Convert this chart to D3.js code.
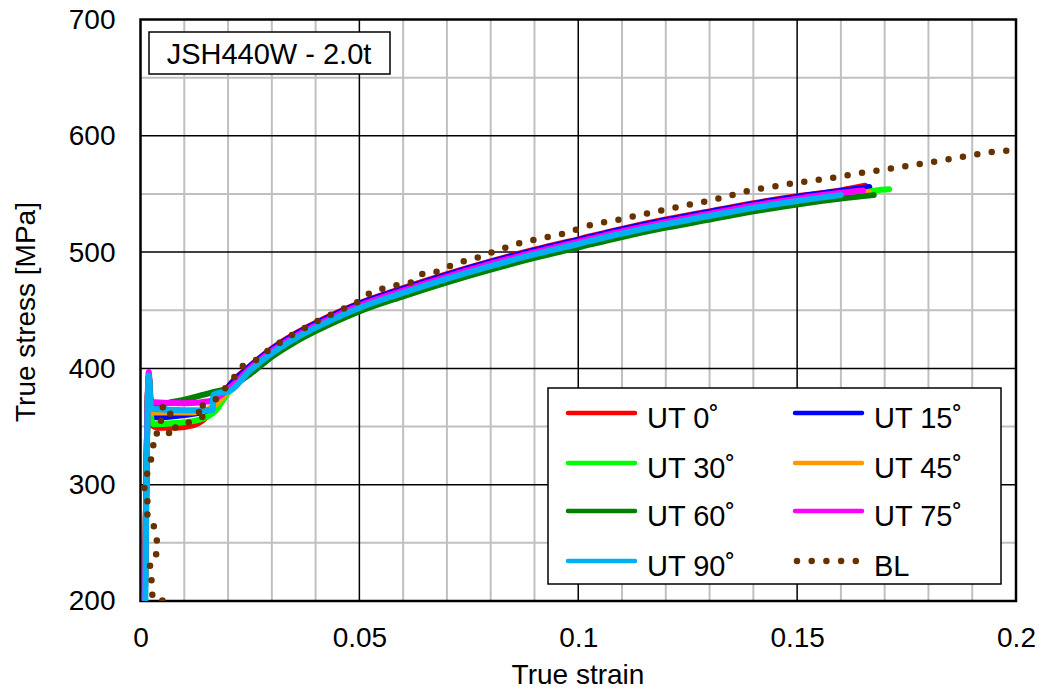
<!DOCTYPE html>
<html>
<head>
<meta charset="utf-8">
<script src="https://cdn.jsdelivr.net/npm/d3@7"></script>
<style>
  body { margin: 0; background: #fff; }
  svg { display: block; }
  text { font-family: "Liberation Sans", Arial, sans-serif; fill: #000; }
</style>
</head>
<body>
<svg id="chart" width="1041" height="693"></svg>
<script>
// ---- axis ticks ----
const xTicks = [0, 0.05, 0.1, 0.15, 0.2];
const xTickLabels = ["0", "0.05", "0.1", "0.15", "0.2"];
const yTicks = [200, 300, 400, 500, 600, 700];
const yTickLabels = ["200", "300", "400", "500", "600", "700"];

// ---- shared strain grid for the work-hardening part ----
const gridStrain = [0.02, 0.025, 0.03, 0.035, 0.04, 0.045, 0.05, 0.06, 0.07, 0.08, 0.09, 0.10, 0.11, 0.12, 0.13, 0.14, 0.15, 0.16];

// ---- UT 0° ----
const ut0Strain = [0.0010, 0.0019, 0.0024, 0.0040, 0.0080, 0.0120, 0.0150, 0.0180].concat(gridStrain, [0.1655]);
const ut0Stress = [200, 392, 352, 349, 349, 351, 358, 372,
  384, 402, 417, 429, 439, 448, 456, 469, 481, 492, 502, 511, 520, 528, 535, 542, 548, 553, 557];

// ---- UT 15° ----
const ut15Strain = [0.0010, 0.0019, 0.0024, 0.0040, 0.0100, 0.0160, 0.0180].concat(gridStrain, [0.1665]);
const ut15Stress = [200, 393, 358, 358, 360, 364, 372,
  383.5, 401.5, 416.5, 428.5, 438.5, 447.5, 455.5, 468.5, 480.5, 491.5, 501.5, 510.5, 519.5, 527.5, 534.5, 541.5, 547.5, 552.5, 556];

// ---- UT 30° ----
const ut30Strain = [0.0010, 0.0019, 0.0025, 0.0030, 0.0080, 0.0135, 0.0170].concat(gridStrain, [0.165, 0.168, 0.171]);
const ut30Stress = [200, 392, 356, 352, 353, 356, 363,
  379, 397, 412, 424, 434, 443, 451, 464, 476, 487, 497, 506, 515, 523, 530, 537, 543, 548, 551, 553, 554];

// ---- UT 45° ----
const ut45Strain = [0.0010, 0.0019, 0.0025, 0.0040, 0.0100, 0.0140, 0.0180].concat(gridStrain, [0.1665]);
const ut45Stress = [200, 393, 362, 362, 362, 363, 372,
  380, 398, 413, 425, 435, 444, 452, 465, 477, 488, 498, 507, 516, 524, 531, 538, 544, 549, 551];

// ---- UT 60° ----
const ut60Strain = [0.0010, 0.0019, 0.0025, 0.0060, 0.0100, 0.0160].concat(gridStrain, [0.1675]);
const ut60Stress = [200, 392, 366, 370, 373, 379,
  383, 395, 410, 422, 432, 441, 449, 462, 474, 485, 495, 504, 513, 521, 528, 535, 541, 546, 549];

// ---- UT 75° ----
const ut75Strain = [0.0010, 0.0019, 0.0022, 0.0030, 0.0100, 0.0160, 0.0180].concat(gridStrain, [0.165]);
const ut75Stress = [200, 397, 375, 371, 370, 372, 376,
  382, 400, 415, 427, 437, 446, 454, 467, 479, 490, 500, 509, 518, 526, 533, 540, 546, 551, 553];

// ---- UT 90° ----
const ut90Strain = [0.0011, 0.0019, 0.0024, 0.0030, 0.0100, 0.0165, 0.0166, 0.0180].concat(gridStrain);
const ut90Stress = [200, 394, 366, 365, 364, 364, 377, 379,
  380, 398, 413, 425, 435, 444, 452, 465, 477, 488, 498, 507, 516, 524, 531, 538, 544, 549];

// ---- BL ----
const blStrain = [0.0050, 0.0027, 0.0027, 0.0021, 0.0023, 0.0039, 0.0037, 0.0030, 0.0014, 0.0021, 0.0009, 0.0009,
  0.0016, 0.0025, 0.0030, 0.0039, 0.0037, 0.0066, 0.0043, 0.0053, 0.0064, 0.0080, 0.0098, 0.0121, 0.0153,
  0.0123, 0.0146, 0.0171, 0.0185, 0.0208, 0.0226, 0.0260, 0.0290, 0.0338, 0.0411, 0.0502, 0.0527, 0.0559,
  0.0589, 0.0621, 0.0646, 0.0676, 0.0726, 0.0760, 0.0811, 0.0877, 0.0959, 0.1034, 0.1082, 0.1130, 0.1180,
  0.1235, 0.1299, 0.1393, 0.1486, 0.1584, 0.1646, 0.1742, 0.1842, 0.1941, 0.2002, 0.2050];
const blStress = [200.5, 201.5, 214, 226, 237, 241, 254, 265, 271, 284, 288, 298,
  311, 323, 336, 337, 345, 344, 357, 369, 365, 349, 352, 355, 360,
  364, 369, 373, 380, 388, 401, 406, 415, 427, 442, 458, 466, 469,
  472, 474, 482, 483, 491, 494, 501, 509, 515, 524, 527, 531, 535,
  539.5, 544, 553, 559, 564, 568, 573.5, 579.5, 586, 588, 590];

// ---- series table (drawing order: UT 0° first, BL on top) ----
const seriesNames = ["UT 0˚", "UT 15˚", "UT 30˚", "UT 45˚", "UT 60˚", "UT 75˚", "UT 90˚", "BL"];
const seriesColors = ["#ff0000", "#0000ff", "#00ff00", "#ff9900", "#008000", "#ff00ff", "#00b0f0", "#663300"];
const seriesStrain = [ut0Strain, ut15Strain, ut30Strain, ut45Strain, ut60Strain, ut75Strain, ut90Strain, blStrain];
const seriesStress = [ut0Stress, ut15Stress, ut30Stress, ut45Stress, ut60Stress, ut75Stress, ut90Stress, blStress];

const series = seriesNames.map((name, i) => ({
  name,
  color: seriesColors[i],
  dotted: name === "BL",
  points: seriesStrain[i].map((e, k) => ({ e, s: seriesStress[i][k] }))
}));

// ---- layout ----
const svg = d3.select("#chart");
const plot = { left: 140.5, right: 1016, top: 19.5, bottom: 601 };

const x = d3.scaleLinear().domain([0, 0.2]).range([plot.left, plot.right]);
const y = d3.scaleLinear().domain([200, 700]).range([plot.bottom, plot.top]);

svg.append("defs").append("clipPath").attr("id", "plotClip")
  .append("rect")
  .attr("x", plot.left).attr("y", plot.top)
  .attr("width", plot.right - plot.left).attr("height", plot.bottom - plot.top);

// minor grid
const grid = svg.append("g");
const xMinor = d3.range(1, 20).map(i => i / 100).filter(v => Math.abs(v * 20 - Math.round(v * 20)) > 1e-9);
const yMinor = d3.range(250, 700, 100);
grid.selectAll(".vx").data(xMinor).join("line")
  .attr("x1", d => x(d)).attr("x2", d => x(d))
  .attr("y1", plot.top).attr("y2", plot.bottom)
  .attr("stroke", "#c0c0c0").attr("stroke-width", 2);
grid.selectAll(".hy").data(yMinor).join("line")
  .attr("x1", plot.left).attr("x2", plot.right)
  .attr("y1", d => y(d)).attr("y2", d => y(d))
  .attr("stroke", "#c0c0c0").attr("stroke-width", 2);

// major grid
grid.selectAll(".vxM").data(xTicks.slice(1, -1)).join("line")
  .attr("x1", d => x(d)).attr("x2", d => x(d))
  .attr("y1", plot.top).attr("y2", plot.bottom)
  .attr("stroke", "#000").attr("stroke-width", 1.5);
grid.selectAll(".hyM").data(yTicks.slice(1, -1)).join("line")
  .attr("x1", plot.left).attr("x2", plot.right)
  .attr("y1", d => y(d)).attr("y2", d => y(d))
  .attr("stroke", "#000").attr("stroke-width", 1.5);

// frame
svg.append("rect")
  .attr("x", plot.left).attr("y", plot.top)
  .attr("width", plot.right - plot.left).attr("height", plot.bottom - plot.top)
  .attr("fill", "none").attr("stroke", "#000").attr("stroke-width", 2.5);

// axes (labels only; gridlines drawn above)
const xAxis = d3.axisBottom(x).tickValues(xTicks).tickFormat((d, i) => xTickLabels[i]).tickSize(0).tickPadding(26);
const gx = svg.append("g").attr("transform", `translate(0,${plot.bottom})`).call(xAxis);
gx.select(".domain").remove();
gx.selectAll("text").attr("font-size", 28).attr("font-family", '"Liberation Sans", Arial, sans-serif').attr("fill", "#000");

const yAxis = d3.axisLeft(y).tickValues(yTicks).tickFormat((d, i) => yTickLabels[i]).tickSize(0).tickPadding(25);
const gy = svg.append("g").attr("transform", `translate(${plot.left},0)`).call(yAxis);
gy.select(".domain").remove();
gy.selectAll("text").attr("font-size", 28).attr("font-family", '"Liberation Sans", Arial, sans-serif').attr("fill", "#000");

// axis titles
svg.append("text").attr("x", 578).attr("y", 684).attr("text-anchor", "middle")
  .attr("font-size", 28).text("True strain");
svg.append("text").attr("transform", "translate(35,312) rotate(-90)").attr("text-anchor", "middle")
  .attr("font-size", 28).text("True stress [MPa]");

// curves: smooth test curves, dotted BL drawn straight through its points
const smoothLine = d3.line().x(d => x(d.e)).y(d => y(d.s)).curve(d3.curveMonotoneX);
const straightLine = d3.line().x(d => x(d.e)).y(d => y(d.s));
const curves = svg.append("g").attr("clip-path", "url(#plotClip)");
curves.selectAll("path").data(series).join("path")
  .attr("d", d => d.dotted ? straightLine(d.points) : smoothLine(d.points))
  .attr("fill", "none")
  .attr("stroke", d => d.color)
  .attr("stroke-width", d => d.dotted ? 6.5 : 6)
  .attr("stroke-linecap", "round")
  .attr("stroke-linejoin", "round")
  .attr("stroke-dasharray", d => d.dotted ? "0 14.6" : null);

// material label box
const tag = svg.append("g");
tag.append("rect").attr("x", 149).attr("y", 32).attr("width", 241).attr("height", 42)
  .attr("fill", "#fff").attr("stroke", "#000").attr("stroke-width", 1.5);
tag.append("text").attr("x", 269).attr("y", 64).attr("text-anchor", "middle")
  .attr("font-size", 29).text("JSH440W - 2.0t");

// legend
const legend = svg.append("g");
legend.append("rect").attr("x", 548).attr("y", 388).attr("width", 453).attr("height", 196)
  .attr("fill", "#fff").attr("stroke", "#000").attr("stroke-width", 1.5);
const colX = [568, 795];
const rowY = [413, 463, 511, 561];
series.forEach((s, i) => {
  const cx = colX[i % 2], cy = rowY[Math.floor(i / 2)];
  legend.append("line")
    .attr("x1", s.dotted ? cx + 2 : cx).attr("x2", s.dotted ? cx + 61 : cx + 67)
    .attr("y1", cy).attr("y2", cy)
    .attr("stroke", s.color)
    .attr("stroke-width", s.dotted ? 6.5 : 4.5)
    .attr("stroke-linecap", "round")
    .attr("stroke-dasharray", s.dotted ? "0 14.7" : null);
  legend.append("text").attr("x", cx + 79).attr("y", cy + 15)
    .attr("font-size", 29).text(s.name);
});
</script>
</body>
</html>
